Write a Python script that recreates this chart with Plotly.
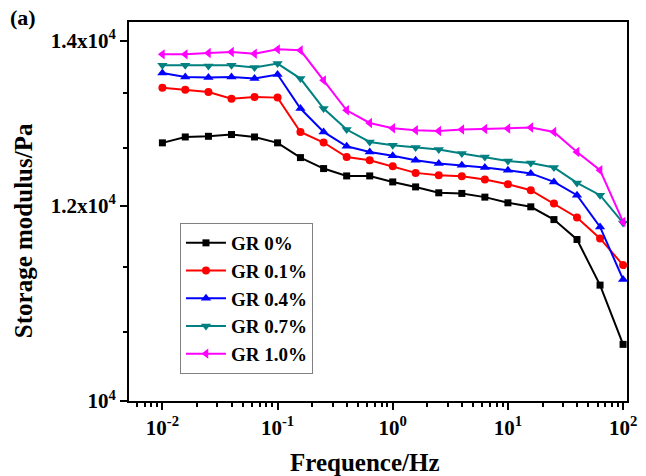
import plotly.graph_objects as go

# Frequencies (Hz): 5 points per decade from 1e-2 to 1e2
freq = [0.01, 0.0158, 0.0251, 0.0398, 0.0631, 0.1, 0.158, 0.251, 0.398, 0.631,
        1.0, 1.58, 2.51, 3.98, 6.31, 10.0, 15.8, 25.1, 39.8, 63.1, 100.0]

gr_0 = [12726, 12796, 12804, 12825, 12796, 12726, 12552, 12424, 12339, 12339,
        12270, 12213, 12146, 12139, 12097, 12033, 11988, 11846, 11628, 11143, 10543]
gr_01 = [13399, 13374, 13344, 13262, 13282, 13275, 12856, 12730, 12559, 12520,
         12451, 12374, 12347, 12336, 12298, 12244, 12176, 12026, 11869, 11639, 11353]
gr_04 = [13585, 13534, 13527, 13534, 13513, 13564, 13140, 12856, 12685, 12618,
         12573, 12520, 12482, 12462, 12436, 12405, 12368, 12270, 12119, 11765, 11202]
gr_07 = [13682, 13682, 13673, 13682, 13653, 13704, 13513, 13140, 12885, 12737,
         12697, 12670, 12646, 12599, 12559, 12512, 12489, 12436, 12259, 12119, 11809]
gr_10 = [13822, 13822, 13839, 13852, 13831, 13887, 13874, 13491, 13119, 12964,
         12900, 12876, 12868, 12885, 12892, 12897, 12909, 12856, 12618, 12405, 11820]

series_names = ["GR 0%", "GR 0.1%", "GR 0.4%", "GR 0.7%", "GR 1.0%"]
series_values = [gr_0, gr_01, gr_04, gr_07, gr_10]
colors = ["#000000", "#FF0000", "#0000FF", "#008080", "#FF00FF"]
symbols = ["square", "circle", "triangle-up", "triangle-down", "triangle-left"]
sizes = [7, 8, 9, 9, 9]

x_tickvals = [0.01, 0.1, 1, 10, 100]
x_ticktext = ["10<sup>-2</sup>", "10<sup>-1</sup>", "10<sup>0</sup>", "10<sup>1</sup>", "10<sup>2</sup>"]
y_tickvals = [10000, 12000, 14000]
y_ticktext = ["10<sup>4</sup>", "1.2x10<sup>4</sup>", "1.4x10<sup>4</sup>"]

x_minor = [m * 10 ** e for e in range(-3, 2) for m in range(2, 10)]
y_minor = [10667, 11333, 12667, 13333]

FONT = "Liberation Serif"

# plot-area geometry in pixels
W, H = 646, 476
ML, MR, MT, MB = 129, 9, 22, 75
PW, PH = W - ML - MR, H - MT - MB


def px_x(px):
    return (px - ML) / PW


def px_y(py):
    return (H - MB - py) / PH


fig = go.Figure()
for name, vals, c, s, sz in zip(series_names, series_values, colors, symbols, sizes):
    fig.add_trace(go.Scatter(
        x=freq, y=vals, name=name, mode="lines+markers",
        line=dict(color=c, width=2),
        marker=dict(symbol=s, size=sz, color=c, line=dict(width=0)),
    ))

axis_common = dict(
    showline=True, linecolor="black", linewidth=2, mirror=True,
    showgrid=False, zeroline=False,
    ticks="outside", ticklen=7, tickwidth=2, tickcolor="black",
    tickfont=dict(family=FONT, size=21, color="black", weight="bold"),
)

fig.update_layout(
    width=W, height=H,
    margin=dict(l=ML, r=MR, t=MT, b=MB),
    paper_bgcolor="white", plot_bgcolor="white",
    font=dict(family=FONT, color="black"),
    xaxis=dict(
        type="log", range=[-2.29, 2.034],
        tickmode="array", tickvals=x_tickvals, ticktext=x_ticktext,
        minor=dict(tickvals=x_minor, ticks="outside", ticklen=4, tickwidth=2, tickcolor="black"),
        **axis_common,
    ),
    yaxis=dict(
        type="log", range=[4.0, 4.1537],
        tickmode="array", tickvals=y_tickvals, ticktext=y_ticktext,
        minor=dict(tickvals=y_minor, ticks="outside", ticklen=4, tickwidth=2, tickcolor="black"),
        **axis_common,
    ),
    legend=dict(
        x=px_x(181), y=px_y(223), xanchor="left", yanchor="top",
        bgcolor="white", bordercolor="#808080", borderwidth=1,
        font=dict(family=FONT, size=19, color="black", weight="bold"),
        tracegroupgap=0, itemwidth=40,
    ),
    annotations=[
        dict(text="(a)", x=px_x(6), y=px_y(3), xref="paper", yref="paper", showarrow=False,
             xanchor="left", yanchor="top",
             font=dict(family=FONT, size=22, color="black", weight="bold")),
        dict(text="Frequence/Hz", x=px_x(370), y=px_y(462), xref="paper", yref="paper",
             showarrow=False, xanchor="center", yanchor="middle",
             font=dict(family=FONT, size=25, color="black", weight="bold")),
        dict(text="Storage modulus/Pa", x=px_x(21), y=px_y(231), xref="paper", yref="paper",
             showarrow=False, xanchor="center", yanchor="middle", textangle=-90,
             font=dict(family=FONT, size=25, color="black", weight="bold")),
    ],
)

fig.write_html("out.html")
